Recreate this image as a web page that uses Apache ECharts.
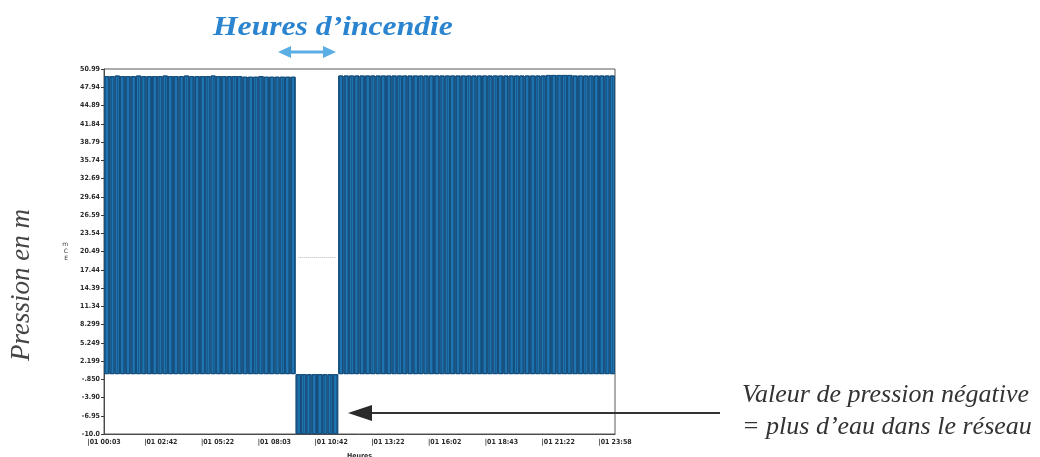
<!DOCTYPE html>
<html>
<head>
<meta charset="utf-8">
<script src="https://cdn.jsdelivr.net/npm/echarts@6/dist/echarts.min.js"></script>
<style>
  html, body { margin: 0; padding: 0; background: #fff; }
  #chart { width: 1040px; height: 457px; }
</style>
</head>
<body>
<div id="chart"></div>
<script>
// Pressure readings (m CE), one value per quarter hour over the day.
// The fire-fighting draw-off runs from 09:00 to 11:00 and pulls the network below zero.
const pressureNight = [
  49.8, 49.8, 49.9, 49.8, 49.8, 49.8, 49.9, 49.8, 49.8, 49.8, 49.8, 49.9,
  49.8, 49.8, 49.8, 49.9, 49.8, 49.8, 49.8, 49.8, 49.9, 49.8, 49.8, 49.8
];
const pressureMorning = [
  49.8, 49.8, 49.7, 49.7, 49.7, 49.8, 49.7, 49.7, 49.7, 49.7, 49.7, 49.7
];
const pressureFire = [-10.0, -10.0, -10.0, -10.0, -10.0, -10.0, -10.0, -10.0];
const pressureAfternoon = [
  49.9, 49.9, 49.9, 49.9, 49.9, 49.9, 49.9, 49.9, 49.9, 49.9, 49.9, 49.9,
  49.9, 49.9, 49.9, 49.9, 49.9, 49.9, 49.9, 49.9, 49.9, 49.9, 49.9, 49.9,
  49.9, 49.9, 49.9, 49.9, 49.9, 49.9, 49.9, 49.9, 49.9, 49.9, 49.9, 49.9,
  49.9, 49.9, 49.9, 50.0, 50.0, 50.0, 50.0, 50.0, 49.9, 49.9, 49.9, 49.9,
  49.9, 49.9, 49.9, 49.9
];
// Level of the faint dotted trace left during the fire window
const fireTraceLevel = 19.6;

const yTickLabels = [
  "-10.0", "-6.95", "-3.90", "-.850", "2.199", "5.249", "8.299", "11.34",
  "14.39", "17.44", "20.49", "23.54", "26.59", "29.64", "32.69", "35.74",
  "38.79", "41.84", "44.89", "47.94", "50.99"
];
const xTickLabels = [
  "|01 00:03", "|01 02:42", "|01 05:22", "|01 08:03", "|01 10:42",
  "|01 13:22", "|01 16:02", "|01 18:43", "|01 21:22", "|01 23:58"
];

const pressure = [].concat(pressureNight, pressureMorning, pressureFire, pressureAfternoon);
const fireStart = pressureNight.length + pressureMorning.length;
const fireEnd = fireStart + pressureFire.length - 1;

// Sample timestamps (quarter-hour steps)
const times = pressure.map((_, i) => {
  const m = i * 15;
  return String(Math.floor(m / 60)).padStart(2, '0') + ':' + String(m % 60).padStart(2, '0');
});

const Y_MIN = -10.0, Y_MAX = 50.99;
const Y_STEP = (Y_MAX - Y_MIN) / (yTickLabels.length - 1);

const tickFont = {
  fontFamily: '"DejaVu Sans Condensed", "Liberation Sans", sans-serif',
  fontWeight: 'bold', fontSize: 7, color: '#2a2a2a'
};

const chart = echarts.init(document.getElementById('chart'), null, { renderer: 'canvas' });

chart.setOption({
  animation: false,
  backgroundColor: '#ffffff',
  grid: {
    left: 104, right: 425, top: 69, bottom: 23,
    outerBoundsMode: 'none',
    containLabel: false,
    show: true, borderColor: '#5a5a5a', borderWidth: 1, backgroundColor: 'transparent'
  },
  xAxis: [
    {
      type: 'category',
      data: times,
      boundaryGap: true,
      axisLine: { show: false, onZero: false },
      axisTick: { show: false },
      axisLabel: { show: false },
      splitLine: { show: false }
    },
    {
      type: 'value',
      position: 'bottom',
      min: 0, max: xTickLabels.length - 1, interval: 1,
      name: 'Heures',
      nameLocation: 'middle',
      nameGap: 19,
      nameTextStyle: Object.assign({}, tickFont, { fontSize: 7 }),
      axisLine: { show: true, onZero: false, lineStyle: { color: '#4a4a4a', width: 1 } },
      axisTick: { show: false },
      splitLine: { show: false },
      axisLabel: Object.assign({
        margin: 5,
        showMinLabel: true, showMaxLabel: true,
        formatter: v => xTickLabels[Math.round(v)] || ''
      }, tickFont)
    }
  ],
  yAxis: {
    type: 'value',
    min: Y_MIN, max: Y_MAX, interval: Y_STEP,
    name: 'm\nC\nE',
    nameLocation: 'middle',
    nameRotate: 0,
    nameGap: 36,
    nameTextStyle: { fontFamily: 'DejaVu Sans', fontSize: 6, lineHeight: 7, color: '#333' },
    axisLine: { show: true, lineStyle: { color: '#4a4a4a', width: 1 } },
    axisTick: { show: true, length: 3, lineStyle: { color: '#3a3a3a' } },
    splitLine: { show: false },
    axisLabel: Object.assign({
      margin: 4,
      showMinLabel: true, showMaxLabel: true,
      formatter: v => yTickLabels[Math.round((v - Y_MIN) / Y_STEP)] || ''
    }, tickFont)
  },
  series: [
    {
      type: 'bar',
      xAxisIndex: 0,
      data: pressure,
      barCategoryGap: '0%',
      itemStyle: {
        color: '#1d74b0', borderColor: '#174f7d', borderWidth: 1,
        // fine vertical hatching of the dense sample bars
        decal: {
          symbol: 'rect',
          symbolSize: 1,
          dashArrayX: [1, 2],
          dashArrayY: [10, 0],
          rotation: 0,
          color: 'rgba(14, 52, 92, 0.35)'
        }
      },
      emphasis: { disabled: true },
      markLine: {
        silent: true,
        symbol: 'none',
        label: { show: false },
        lineStyle: { color: '#b8b8b8', type: 'dotted', width: 1 },
        data: [[
          { xAxis: fireStart, yAxis: fireTraceLevel },
          { xAxis: fireEnd, yAxis: fireTraceLevel }
        ]]
      }
    }
  ],
  graphic: [
    {
      type: 'text',
      x: 213, y: 14,
      scaleX: 1.13,
      style: {
        text: 'Heures d’incendie',
        font: 'italic bold 28px "Liberation Serif"',
        fill: '#2b84cf'
      }
    },
    // double-headed arrow under the title
    {
      type: 'line',
      shape: { x1: 288, y1: 52, x2: 326, y2: 52 },
      style: { stroke: '#5aaee4', lineWidth: 3 }
    },
    {
      type: 'polygon',
      shape: { points: [[278, 52], [291, 46], [291, 58]] },
      style: { fill: '#5aaee4' }
    },
    {
      type: 'polygon',
      shape: { points: [[336, 52], [323, 46], [323, 58]] },
      style: { fill: '#5aaee4' }
    },
    {
      type: 'text',
      x: 22, y: 285,
      rotation: Math.PI / 2,
      style: {
        text: 'Pression en m',
        font: 'italic 27px "Liberation Serif"',
        fill: '#444',
        align: 'center',
        verticalAlign: 'middle'
      }
    },
    {
      type: 'text',
      x: 742, y: 379,
      style: {
        text: 'Valeur de pression négative\n= plus d’eau dans le réseau',
        font: 'italic 26px "Liberation Serif"',
        lineHeight: 32,
        fill: '#333'
      }
    },
    // pointer toward the negative readings
    {
      type: 'line',
      shape: { x1: 368, y1: 413, x2: 720, y2: 413 },
      style: { stroke: '#333', lineWidth: 2 }
    },
    {
      type: 'polygon',
      shape: { points: [[348, 413], [372, 405], [372, 421]] },
      style: { fill: '#2a2a2a' }
    }
  ]
});
</script>
</body>
</html>
